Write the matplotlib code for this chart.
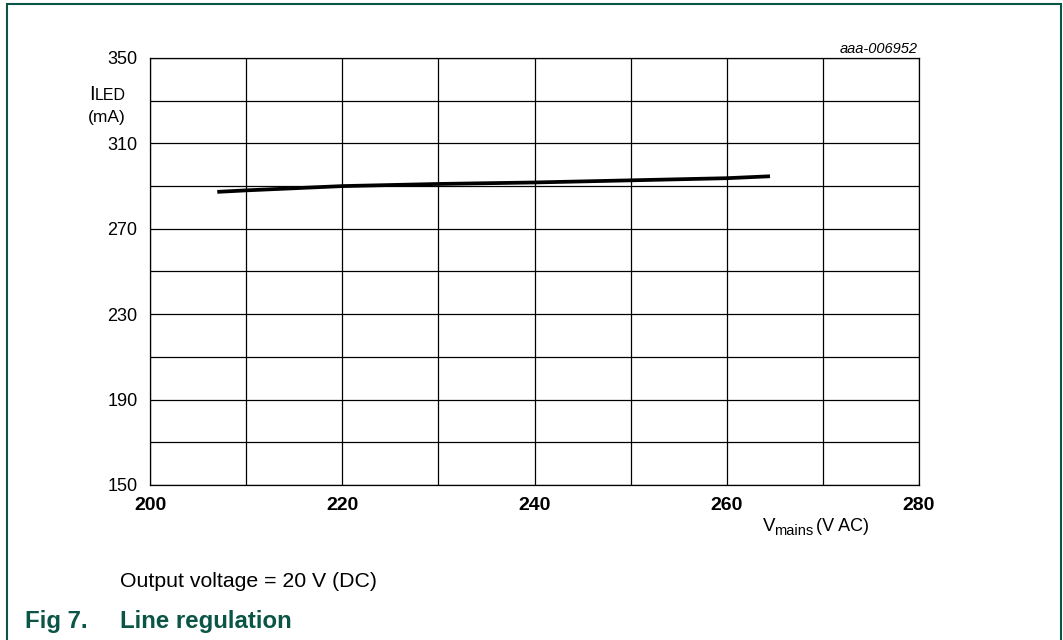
import matplotlib.pyplot as plt
from matplotlib.patches import Rectangle
from matplotlib.ticker import FixedLocator, MultipleLocator

plt.rcParams['font.family'] = ['Liberation Sans', 'DejaVu Sans']

# data
v_mains = [207, 210, 220, 230, 240, 250, 260, 264.5]
i_led = [287.3, 288.0, 290.0, 291.0, 291.7, 292.7, 293.7, 294.6]

x_labels = [200, 220, 240, 260, 280]
y_labels = [150, 190, 230, 270, 310, 350]
y_grid = [170, 210, 250, 290, 330]

W, H = 1063, 640
green = '#0b5546'

fig = plt.figure(figsize=(W / 100, H / 100), dpi=100)

def px(x, y):
    # pixel position (from top-left) -> figure fraction
    return x / W, 1 - y / H

ax = fig.add_axes([150 / W, (H - 485) / H, 769 / W, 427 / H])
ax.plot(v_mains, i_led, color='black', lw=2.7, solid_capstyle='butt', zorder=3)

ax.set_xlim(200, 280)
ax.set_ylim(150, 350)
ax.set_xticks(x_labels)
ax.set_yticks(y_labels)
ax.xaxis.set_minor_locator(MultipleLocator(10))
ax.yaxis.set_minor_locator(FixedLocator(y_grid))
ax.grid(which='both', color='black', lw=0.9)
ax.tick_params(which='both', length=0)
ax.tick_params(axis='y', pad=9, labelsize=13)
ax.tick_params(axis='x', pad=9, labelsize=14)
for lab in ax.get_xticklabels():
    lab.set_fontweight('bold')
for s in ax.spines.values():
    s.set_linewidth(0.9)
    s.set_color('black')

# axis titles
fig.text(*px(89, 100), 'I', fontsize=14.5, ha='left', va='baseline')
fig.text(*px(95, 100), 'LED', fontsize=11.5, ha='left', va='baseline')
fig.text(*px(107, 122), '(mA)', fontsize=12.5, ha='center', va='baseline')

fig.text(*px(763, 531), 'V', fontsize=13.5, ha='left', va='baseline')
fig.text(*px(774, 535), 'mains', fontsize=10.5, ha='left', va='baseline')
fig.text(*px(816, 531), '(V AC)', fontsize=13, ha='left', va='baseline')

fig.text(*px(918, 53), 'aaa-006952', fontsize=10.5, style='italic',
         ha='right', va='baseline')

# caption
fig.text(*px(120, 587), 'Output voltage = 20 V (DC)', fontsize=15.3,
         ha='left', va='baseline')
fig.text(*px(25, 628), 'Fig 7.', fontsize=17.3, fontweight='bold',
         color=green, ha='left', va='baseline')
fig.text(*px(120, 628), 'Line regulation', fontsize=17.3, fontweight='bold',
         color=green, ha='left', va='baseline')

# frame around the figure
fig.patches.append(Rectangle(px(7, 700), (1061 - 7) / W, (700 - 4) / H,
                             transform=fig.transFigure, fill=False,
                             edgecolor=green, lw=1.5))

fig.savefig('out.png', dpi=100)
